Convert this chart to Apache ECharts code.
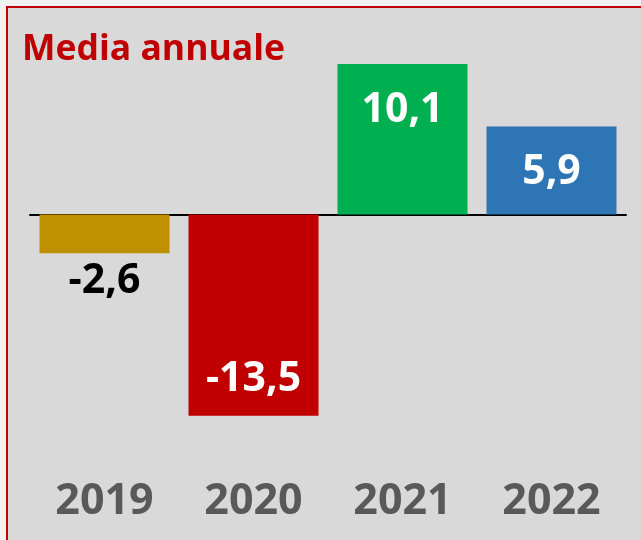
<!DOCTYPE html>
<html>
<head>
<meta charset="utf-8">
<script src="https://cdn.jsdelivr.net/npm/echarts@6/dist/echarts.min.js"></script>
<style>
html,body{margin:0;padding:0;background:#f2f2f2;}
#chart{width:641px;height:540px;}
</style>
</head>
<body>
<div id="chart"></div>
<script>
const categories = ['2019', '2020', '2021', '2022'];
const values = [-2.6, -13.5, 10.1, 5.9];
const barColors = ['#bf9000', '#c00000', '#00b050', '#2e75b6'];
const labelPositions = ['bottom', 'insideBottom', 'insideTop', 'insideTop'];
const labelDistances = [8, 16, 26, 25];
const labelColors = ['#000000', '#ffffff', '#ffffff', '#ffffff'];
const titleText = 'Media annuale';

const FONT = "'Open Sans', 'Noto Sans', sans-serif";

const chart = echarts.init(document.getElementById('chart'), null, {renderer: 'canvas'});

const data = values.map((v, i) => ({
  value: v,
  itemStyle: {color: barColors[i]},
  label: {
    show: true,
    position: labelPositions[i],
    distance: labelDistances[i],
    color: labelColors[i],
    fontSize: 41,
    fontWeight: 'bold',
    fontFamily: FONT,
    formatter: (p) => String(p.value).replace('.', ',')
  }
}));

chart.setOption({
  backgroundColor: '#f2f2f2',
  animation: false,
  graphic: [{
    type: 'rect',
    z: -10,
    shape: {x: 7, y: 7, width: 700, height: 600},
    style: {fill: '#d9d9d9', stroke: '#c00000', lineWidth: 2}
  }],
  title: {
    text: titleText,
    left: 17,
    top: 27,
    textStyle: {color: '#c00000', fontSize: 35.5, fontWeight: 'bold', fontFamily: FONT}
  },
  grid: [
    {left: 30, right: 15, top: 50.6, bottom: 116.9, containLabel: false},
    {left: 30, right: 15, top: 440, height: 10, containLabel: false}
  ],
  xAxis: [{
    type: 'category',
    gridIndex: 0,
    data: categories,
    axisLine: {show: true, onZero: true, lineStyle: {color: '#000000', width: 2}},
    axisTick: {show: false},
    axisLabel: {show: false},
    splitLine: {show: false}
  }, {
    type: 'category',
    gridIndex: 1,
    data: categories,
    position: 'bottom',
    axisLine: {show: false, onZero: false},
    axisTick: {show: false},
    axisLabel: {show: true, interval: 0, hideOverlap: false, margin: 52, verticalAlign: 'middle', color: '#595959', fontSize: 43, fontWeight: 'bold', fontFamily: FONT},
    splitLine: {show: false}
  }],
  yAxis: [{
    type: 'value',
    gridIndex: 0,
    min: -14,
    max: 11,
    show: false,
    splitLine: {show: false}
  }, {
    type: 'value',
    gridIndex: 1,
    show: false,
    splitLine: {show: false}
  }],
  series: [{
    type: 'bar',
    xAxisIndex: 0,
    yAxisIndex: 0,
    data: data,
    barWidth: 130
  }]
});
</script>
</body>
</html>
